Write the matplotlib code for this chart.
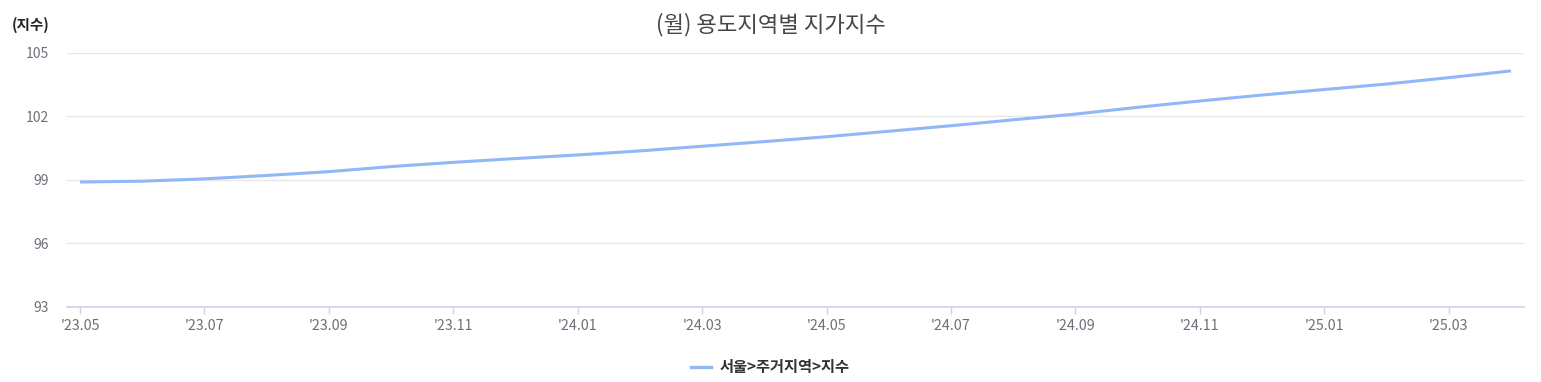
import matplotlib
matplotlib.use("Agg")
import matplotlib.pyplot as plt
from matplotlib.lines import Line2D

plt.rcParams['font.family'] = ['Noto Sans CJK KR', 'DejaVu Sans']

months = ["'23.05", "'23.06", "'23.07", "'23.08", "'23.09", "'23.10", "'23.11", "'23.12",
          "'24.01", "'24.02", "'24.03", "'24.04", "'24.05", "'24.06", "'24.07", "'24.08",
          "'24.09", "'24.10", "'24.11", "'24.12", "'25.01", "'25.02", "'25.03", "'25.04"]
values = [98.89, 98.93, 99.04, 99.20, 99.38, 99.62, 99.82, 100.00,
          100.17, 100.36, 100.58, 100.80, 101.03, 101.29, 101.55, 101.83,
          102.10, 102.42, 102.72, 103.00, 103.26, 103.52, 103.82, 104.14]
yticks = [93, 96, 99, 102, 105]
series_name = "서울>주거지역>지수"
title = "(월) 용도지역별 지가지수"
unit = "(지수)"

line_color = "#91b8f6"
label_color = "#6e7079"

fig = plt.figure(figsize=(15.41, 3.82), dpi=100)
ax = fig.add_axes([67/1541, 1-306.7/382, (1524-67)/1541, (306.7-52.7)/382])

x = list(range(len(months)))
ax.plot(x, values, color=line_color, lw=2.2, solid_capstyle='butt')

ax.set_xlim(-0.21, len(months)-1+0.21)
ax.set_ylim(93, 105)
ax.set_yticks(yticks)
ax.set_yticklabels([str(v) for v in yticks])
ax.set_xticks(x[::2])
ax.set_xticklabels(months[::2])

for s in ['top', 'right', 'left']:
    ax.spines[s].set_visible(False)
ax.spines['bottom'].set_color('#ccd3e6')
ax.spines['bottom'].set_linewidth(1.2)

ax.grid(axis='y', color='#e8e8e8', lw=1)
ax.set_axisbelow(True)
ax.tick_params(axis='y', length=0, pad=13, labelsize=10, labelcolor=label_color)
ax.tick_params(axis='x', length=5, color='#ccd3e6', width=1, pad=4, labelsize=10.3, labelcolor=label_color)

fig.text(0.5, 1-25/382, title, ha='center', va='center', fontsize=16, color='#464646')
fig.text(12/1541, 1-25/382, unit, ha='left', va='center', fontsize=10.5, fontweight='bold', color='#222222')

handle = Line2D([], [], color=line_color, lw=2.4)
fig.legend([handle], [series_name], loc='center', bbox_to_anchor=(0.5, 1-367/382),
           frameon=False, prop={'size': 11, 'weight': 'bold'}, labelcolor='#333333',
           handlelength=1.3, handletextpad=0.6)

fig.savefig("out.png", dpi=100)
